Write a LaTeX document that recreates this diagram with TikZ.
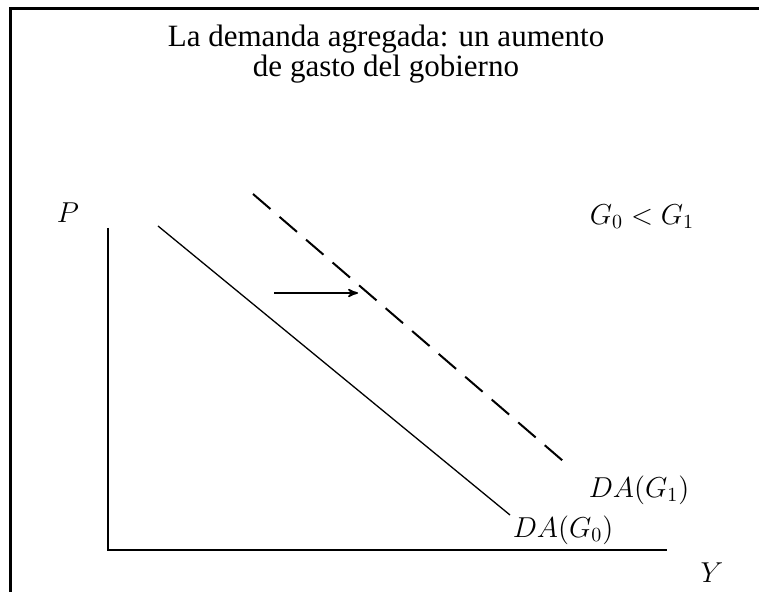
\documentclass[tikz,border=0pt]{standalone}
\usepackage{fontspec}
\setmainfont{Liberation Serif}
\usetikzlibrary{arrows}

\begin{document}
\begin{tikzpicture} [x=.5pt, y=-.5pt]
\useasboundingbox (0,0) rectangle (759,592);
\draw[black, line width=1.5pt] (10,9) rectangle (800,640);
\node[align=center, font=\fontsize{15.5}{15}\selectfont] (title) at (386,54) {La demanda agregada: un aumento\\de gasto del gobierno};
\coordinate (ptop) at (108,228);
\coordinate (o) at (108,550);
\coordinate (yend) at (667,550);
\draw[black, line width=.6pt] (ptop) -- (o) -- (yend);
\node[font=\fontsize{14.5}{14}\selectfont] (P) at (68,213) {$P$};
\node[font=\fontsize{14.5}{14}\selectfont] (Y) at (712,573) {$Y$};
\node[font=\fontsize{14.5}{14}\selectfont] (ineq) at (642,217) {$G_0 < G_1$};
\coordinate (da0a) at (158,226);
\coordinate (da0b) at (510,515);
\coordinate (da1a) at (253,194);
\coordinate (da1b) at (570,467);
\draw[black, line width=.65pt] (da0a) -- (da0b);
\draw[black, line width=1pt, dash pattern=on 11.5pt off 6pt] (da1a) -- (da1b);
\node[font=\fontsize{14.5}{14}\selectfont] (da1) at (639,490) {$DA(G_1)$};
\node[font=\fontsize{14.5}{14}\selectfont] (da0) at (563,530) {$DA(G_0)$};
\coordinate (sa) at (274,293);
\coordinate (sb) at (358,293);
\draw[black, line width=.8pt, ->, >=stealth'] (sa) -- (sb);
\end{tikzpicture}
\end{document}
